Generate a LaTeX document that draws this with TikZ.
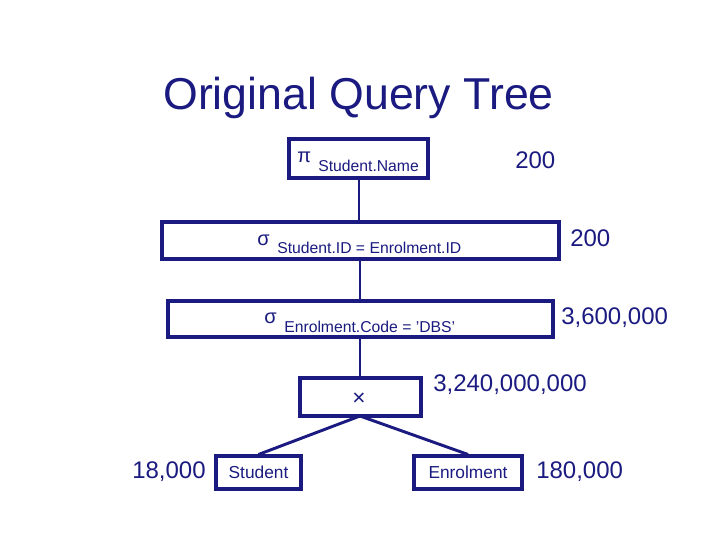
\documentclass[tikz,border=0pt]{standalone}
\usepackage{fontspec}
\setmainfont{Liberation Sans}
\definecolor{navy}{HTML}{1A1A80}
\begin{document}
\begin{tikzpicture}[x=0.75pt,y=-0.75pt,
  bx/.style={draw=navy,line width=2.3pt},
  num/.style={text=navy,font=\fontsize{18}{20}\selectfont,anchor=base west,inner sep=0},
  gr/.style={text=navy,anchor=base west,inner sep=0,font=\fontsize{15}{16}\selectfont},
  sub/.style={text=navy,anchor=base west,inner sep=0,font=\fontsize{11.8}{13}\selectfont},
  lab/.style={text=navy,font=\fontsize{13}{15}\selectfont}]
\useasboundingbox (0,0) rectangle (720,540);
\node[text=navy,font=\fontsize{33.5}{36}\selectfont,anchor=base west,inner sep=0] (title) at (163,109) {Original Query Tree};
\draw[bx] (289,139) rectangle (428,178);
\draw[bx] (162,222) rectangle (559,259);
\draw[bx] (168,301) rectangle (553,337);
\draw[bx] (300,378) rectangle (421,416);
\node[bx,lab,minimum width=85*0.75pt,minimum height=33*0.75pt,inner sep=0] (st) at (258.5,472.5) {Student};
\node[bx,lab,minimum width=108*0.75pt,minimum height=33*0.75pt,inner sep=0] (en) at (468,472.5) {Enrolment};
\coordinate (p) at (359,178); \coordinate (s1t) at (359,222);
\coordinate (s1b) at (360,259); \coordinate (s2t) at (360,301);
\coordinate (s2b) at (360,337); \coordinate (xt) at (360,378);
\coordinate (xb) at (360,416);
\draw[navy,line width=2.2pt] (p)--(s1t) (s1b)--(s2t) (s2b)--(xt);
\draw[navy,line width=2.2pt] (xb)--(st.north) (xb)--(en.north);
\node[gr] (pi) at (297,162) {π};
\node[sub] (pis) at (318,171) {Student.Name};
\node[gr] (s1) at (257,245) {σ};
\node[sub] (s1s) at (277,253) {Student.ID = Enrolment.ID};
\node[gr] (s2) at (264,323) {σ};
\node[sub] (s2s) at (284,332) {Enrolment.Code = 'DBS'};
\node[text=navy,inner sep=0,font=\fontsize{17}{18}\selectfont] (x) at (359,399) {×};
\node[num] (n1) at (515,168) {200};
\node[num] (n2) at (570,246) {200};
\node[num] (n3) at (561,324) {3,600,000};
\node[num] (n4) at (433,391) {3,240,000,000};
\node[num] (n5) at (132,478) {18,000};
\node[num] (n6) at (536,478) {180,000};
\end{tikzpicture}
\end{document}
